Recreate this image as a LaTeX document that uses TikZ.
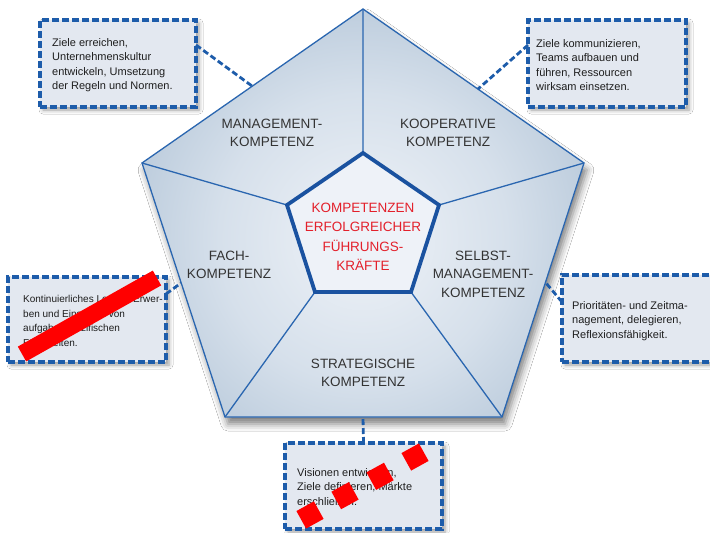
\documentclass[tikz,border=0pt]{standalone}
\usepackage{fontspec}
\setmainfont{Liberation Sans}
\usetikzlibrary{shadows.blur}

\definecolor{edgeblue}{HTML}{2A66B0}
\definecolor{darkblue}{HTML}{1A52A0}
\definecolor{boxblue}{HTML}{1D5CAA}
\definecolor{boxfill}{HTML}{E3E8F0}
\definecolor{innerfill}{HTML}{EEF2F8}
\definecolor{labelgray}{HTML}{333333}
\definecolor{boxtext}{HTML}{1E1E1E}
\definecolor{kred}{HTML}{E3202B}
\definecolor{shA}{HTML}{EFF3F8}
\definecolor{shB}{HTML}{D6E0EB}
\definecolor{shC}{HTML}{A6BBD0}
\definecolor{shD}{HTML}{819DBB}

\pgfdeclareradialshading{pentashade}{\pgfpointorigin}{color(0bp)=(shA); color(15bp)=(shB); color(33bp)=(shC); color(50bp)=(shD)}

\newcommand\boxfnt{\fontsize{11}{14.5}\selectfont}
\newcommand\boxfntsmall{\fontsize{10}{14.5}\selectfont}
\newcommand\lblfnt{\fontsize{13.5}{18.5}\selectfont}
\newcommand\redfnt{\fontsize{13.5}{19.5}\selectfont}

\begin{document}
\begin{tikzpicture}[x=1pt,y=-1pt,
  infobox/.style={draw=boxblue, line width=3.5pt, dash pattern=on 7pt off 3pt,
    fill=boxfill, outer sep=0pt, inner sep=0pt, anchor=north west,
    blur shadow={shadow xshift=3pt, shadow yshift=-3pt, shadow blur radius=4pt, shadow opacity=40}},
  infotext/.style={align=left, anchor=west, inner sep=0pt, font=\boxfnt, text=boxtext},
  conn/.style={draw=boxblue, line width=2.8pt, dash pattern=on 6pt off 3pt},
  lbl/.style={align=center, inner sep=0pt, font=\lblfnt, text=labelgray},
  redlbl/.style={align=center, inner sep=0pt, font=\redfnt, text=kred},
  divider/.style={draw=edgeblue, line width=1.3pt},
  redmark/.style={draw=red, line cap=butt}
]
\useasboundingbox (0,0) rectangle (710,533);
\clip (0,0) rectangle (710,533);
\fill[white] (0,0) rectangle (710,533);

% pentagon vertices
\coordinate (T) at (363,9);
\coordinate (L) at (142,163);
\coordinate (R) at (584,163);
\coordinate (BL) at (225,417);
\coordinate (BR) at (502,417);
\coordinate (iT) at (363,153);
\coordinate (iL) at (287,205);
\coordinate (iR) at (439,205);
\coordinate (iBL) at (315,292);
\coordinate (iBR) at (411,292);

% shadow of pentagon
\path[fill=white, blur shadow={shadow xshift=3pt, shadow yshift=-7pt, shadow blur radius=7pt, shadow opacity=50}]
  (T) -- (R) -- (BR) -- (BL) -- (L) -- cycle;

% shading
\begin{scope}
  \clip (T) -- (R) -- (BR) -- (BL) -- (L) -- cycle;
  \shade[shading=pentashade] (363,238) circle (240pt);
\end{scope}

% dividers
\draw[divider] (T) -- (iT) (L) -- (iL) (R) -- (iR) (BL) -- (iBL) (BR) -- (iBR);
\draw[divider, line join=miter] (T) -- (R) -- (BR) -- (BL) -- (L) -- cycle;

% inner pentagon
\draw[draw=darkblue, fill=innerfill, line width=3.8pt, line join=miter]
  (iT) -- (iR) -- (iBR) -- (iBL) -- (iL) -- cycle;

% labels
\node[lbl] (lman) at (272,133) {MANAGEMENT-\\KOMPETENZ};
\node[lbl] (lkoop) at (448,133) {KOOPERATIVE\\KOMPETENZ};
\node[lbl] (lfach) at (229,265) {FACH-\\KOMPETENZ};
\node[lbl] (lselb) at (483,274) {SELBST-\\MANAGEMENT-\\KOMPETENZ};
\node[lbl] (lstrat) at (363,373) {STRATEGISCHE\\KOMPETENZ};
\node[redlbl] (lcenter) at (363,237) {KOMPETENZEN\\ERFOLGREICHER\\FÜHRUNGS-\\KRÄFTE};

% connector end points on the pentagon
\coordinate (e1) at (252,86);
\coordinate (e2) at (478,89);
\coordinate (e3) at (181,283);
\coordinate (e4) at (546,283);
\coordinate (e5) at (363,417);

% boxes
\node[infobox, minimum width=156pt, minimum height=87pt] (b1) at (40,20) {};
\node[infobox, minimum width=158pt, minimum height=87pt] (b2) at (528,20) {};
\node[infobox, minimum width=158pt, minimum height=85pt] (b3) at (8,277) {};
\node[infobox, minimum width=170pt, minimum height=87pt] (b4) at (562,275) {};
\node[infobox, minimum width=157pt, minimum height=86pt] (b5) at (285,443) {};

% connectors
\draw[conn] ([yshift=-25pt]b1.north east) -- (e1);
\draw[conn] ([yshift=-25pt]b2.north west) -- (e2);
\draw[conn] ([yshift=-17pt]b3.north east) -- (e3);
\draw[conn] ([yshift=-27pt]b4.north west) -- (e4);
\draw[conn] (b5.north) -- (e5);

% box texts
\node[infotext] (t1) at (52,65) {Ziele erreichen,\\Unternehmenskultur\\entwickeln, Umsetzung\\der Regeln und Normen.};
\node[infotext] (t2) at (536,65) {Ziele kommunizieren,\\Teams aufbauen und\\führen, Ressourcen\\wirksam einsetzen.};
\node[infotext, font=\boxfntsmall] (t3) at (23,322) {Kontinuierliches Lernen, Erwer-\\ben und Einsetzen von\\aufgabenspezifischen\\Fähigkeiten.};
\node[infotext] (t4) at (572,321) {Prioritäten- und Zeitma-\\nagement, delegieren,\\Reflexionsfähigkeit.};
\node[infotext] (t5) at (297,487) {Visionen entwickeln,\\Ziele definieren, Märkte\\erschließen.};

% red marks
\coordinate (r1a) at (22,354);
\coordinate (r1b) at (157,278);
\draw[redmark, line width=17pt] (r1a) -- (r1b);
\coordinate (r2a) at (301.25,519.8);
\coordinate (r2b) at (423.75,452.2);
\draw[redmark, line width=20pt, dash pattern=on 20pt off 20pt] (r2a) -- (r2b);
\end{tikzpicture}
\end{document}
